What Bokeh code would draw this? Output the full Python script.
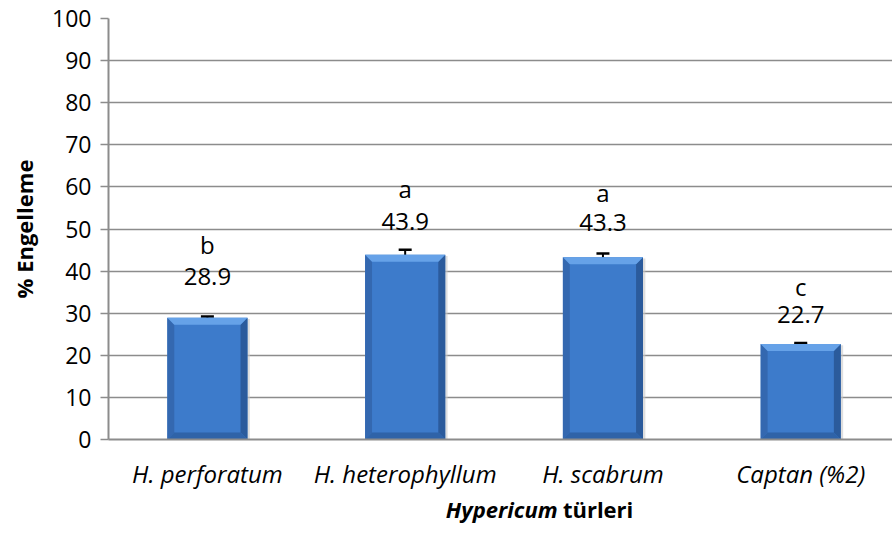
from bokeh.plotting import figure
from bokeh.models import Range1d, FixedTicker, Whisker, ColumnDataSource, TeeHead
from bokeh.layouts import column
from bokeh.embed import file_html
from bokeh.resources import INLINE
from bokeh.core.properties import value

categories = ["H. perforatum", "H. heterophyllum", "H. scabrum", "Captan (%2)"]
means = [28.9, 43.9, 43.3, 22.7]
errors = [0.3, 1.2, 0.9, 0.2]
letters = ["b", "a", "a", "c"]
letter_y = [46.3, 59.6, 58.6, 36.3]
value_y = [38.8, 51.8, 51.5, 29.6]
value_text = ["28.9", "43.9", "43.3", "22.7"]
y_ticks = list(range(0, 101, 10))

FONT = "Open Sans"
xs = [i + 0.5 for i in range(len(categories))]
bw = 0.405
dx = 0.035
dy = 1.65

p = figure(width=892, height=492, output_backend="svg", toolbar_location=None,
           x_range=Range1d(0, 3.964), y_range=Range1d(0, 100),
           min_border_left=108, min_border_right=0, min_border_top=18, min_border_bottom=51)
p.outline_line_color = None
p.background_fill_color = "white"
p.border_fill_color = "white"

# grid
p.xgrid.grid_line_color = None
p.ygrid.ticker = FixedTicker(ticks=y_ticks)
p.ygrid.grid_line_color = "#8c8c8c"
p.ygrid.grid_line_width = 1.5

# axes
p.yaxis.ticker = FixedTicker(ticks=y_ticks)
p.yaxis.axis_line_color = "#8c8c8c"
p.yaxis.axis_line_width = 2
p.yaxis.major_tick_line_color = "#8c8c8c"
p.yaxis.major_tick_line_width = 1.5
p.yaxis.major_tick_out = 8
p.yaxis.major_tick_in = 0
p.yaxis.minor_tick_line_color = None
p.yaxis.major_label_text_font = FONT
p.yaxis.major_label_text_font_size = "23px"
p.yaxis.major_label_text_color = "black"
p.yaxis.major_label_standoff = 9
p.yaxis.axis_label = "% Engelleme"
p.yaxis.axis_label_text_font = FONT
p.yaxis.axis_label_text_font_style = "bold"
p.yaxis.axis_label_text_font_size = "22px"
p.yaxis.axis_label_text_color = "black"
p.yaxis.axis_label_standoff = 10

p.xaxis.ticker = FixedTicker(ticks=xs)
p.xaxis.major_label_overrides = {x: c for x, c in zip(xs, categories)}
p.xaxis.axis_line_color = "#8c8c8c"
p.xaxis.axis_line_width = 2
p.xaxis.major_tick_line_color = None
p.xaxis.minor_tick_line_color = None
p.xaxis.major_tick_out = 0
p.xaxis.major_label_text_font = FONT
p.xaxis.major_label_text_font_style = "italic"
p.xaxis.major_label_text_font_size = "24px"
p.xaxis.major_label_text_color = "black"
p.xaxis.major_label_standoff = 17

# bars
left = [x - bw / 2 for x in xs]
right = [x + bw / 2 for x in xs]
p.quad(left=[l + 0.012 for l in left], right=[r + 0.012 for r in right], bottom=0,
       top=[m - 0.3 for m in means], fill_color="#c8c8c8", fill_alpha=0.6, line_color=None)
p.quad(left=left, right=right, bottom=0, top=means, fill_color="#3d7bcb", line_color=None)

# bevels
top_x, top_y, rs_x, rs_y, ls_x, ls_y, bt_x, bt_y = [], [], [], [], [], [], [], []
for l, r, m in zip(left, right, means):
    top_x.append([l, r, r - dx, l + dx]); top_y.append([m, m, m - dy, m - dy])
    rs_x.append([r, r, r - dx, r - dx]); rs_y.append([m, 0, dy, m - dy])
    ls_x.append([l, l, l + dx, l + dx]); ls_y.append([m, 0, dy, m - dy])
    bt_x.append([l, r, r - dx, l + dx]); bt_y.append([0, 0, dy, dy])
p.patches(rs_x, rs_y, fill_color="#2b5b9c", line_color=None)
p.patches(ls_x, ls_y, fill_color="#3468b0", line_color=None)
p.patches(bt_x, bt_y, fill_color="#2f63a8", line_color=None)
p.patches(top_x, top_y, fill_color="#66a2e8", line_color=None)

# error bars
src = ColumnDataSource(dict(x=xs, upper=[m + e for m, e in zip(means, errors)],
                            lower=[m - e for m, e in zip(means, errors)]))
w = Whisker(base="x", upper="upper", lower="lower", source=src, dimension="height",
            line_color="black", line_width=2,
            upper_head=TeeHead(size=13, line_color="black", line_width=2.5),
            lower_head=TeeHead(size=13, line_color="black", line_width=2.5))
p.add_layout(w)

# labels
p.text(x=xs, y=letter_y, text=letters, text_align="center", text_baseline="middle",
       text_font=value(FONT), text_font_size="24px", text_color="black")
p.text(x=xs, y=value_y, text=value_text, text_align="center", text_baseline="middle",
       text_font=value(FONT), text_font_size="24px", text_color="black")

# x axis title strip (two differently styled parts)
p2 = figure(width=892, height=41, output_backend="svg", toolbar_location=None,
            x_range=Range1d(0, 892), y_range=Range1d(0, 41),
            x_axis_type=None, y_axis_type=None,
            min_border_left=0, min_border_right=0, min_border_top=0, min_border_bottom=0)
p2.outline_line_color = None
p2.grid.visible = False
p2.border_fill_color = "white"
p2.background_fill_color = "white"
p2.text(x=[511], y=[25], text=["Hypericum"], text_align="right", text_baseline="middle",
        text_font=value(FONT), text_font_style="bold italic", text_font_size="22px",
        text_color="black")
p2.text(x=[517], y=[25], text=["türleri"], text_align="left", text_baseline="middle",
        text_font=value(FONT), text_font_style="bold", text_font_size="22px",
        text_color="black")

layout = column(p, p2, spacing=0)
open("out.html", "w").write(file_html(layout, INLINE))
